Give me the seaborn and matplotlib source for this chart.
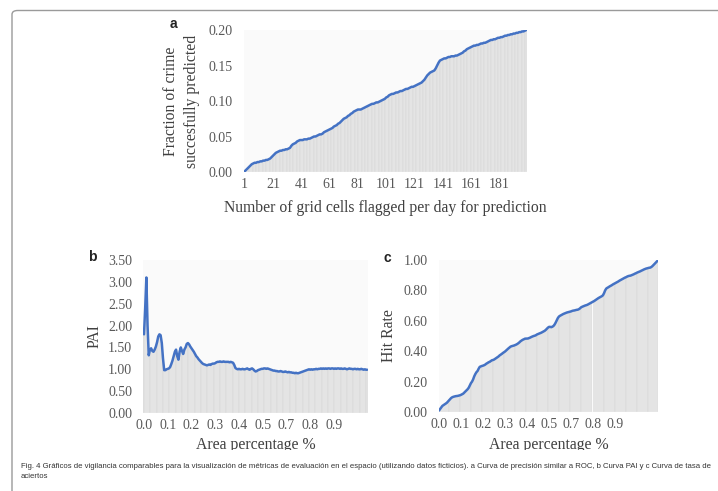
import matplotlib
matplotlib.use("Agg")
import matplotlib.pyplot as plt
import seaborn as sns
import pandas as pd
from matplotlib.patches import FancyBboxPatch, Rectangle

# panel a: fraction of crime successfully predicted vs number of cells flagged (1..200)
cells = list(range(1, 201))
frac_crime = [
    0.001, 0.003, 0.005, 0.007, 0.009, 0.011, 0.012, 0.013, 0.013, 0.014,
    0.014, 0.015, 0.015, 0.016, 0.016, 0.017, 0.017, 0.018, 0.019, 0.021,
    0.023, 0.025, 0.027, 0.028, 0.029, 0.030, 0.030, 0.031, 0.031, 0.032,
    0.032, 0.033, 0.034, 0.037, 0.039, 0.040, 0.041, 0.043, 0.044, 0.045,
    0.045, 0.045, 0.046, 0.046, 0.046, 0.047, 0.047, 0.048, 0.049, 0.050,
    0.050, 0.051, 0.052, 0.053, 0.053, 0.054, 0.056, 0.057, 0.058, 0.059,
    0.060, 0.061, 0.062, 0.064, 0.065, 0.066, 0.068, 0.069, 0.071, 0.073,
    0.075, 0.076, 0.077, 0.079, 0.080, 0.082, 0.083, 0.085, 0.086, 0.087,
    0.088, 0.088, 0.088, 0.089, 0.090, 0.091, 0.092, 0.093, 0.094, 0.095,
    0.096, 0.096, 0.097, 0.098, 0.098, 0.099, 0.100, 0.101, 0.102, 0.103,
    0.105, 0.106, 0.108, 0.109, 0.110, 0.110, 0.111, 0.112, 0.112, 0.113,
    0.114, 0.114, 0.115, 0.116, 0.117, 0.117, 0.118, 0.119, 0.120, 0.120,
    0.121, 0.122, 0.123, 0.124, 0.125, 0.126, 0.128, 0.130, 0.133, 0.136,
    0.138, 0.140, 0.141, 0.142, 0.143, 0.146, 0.150, 0.154, 0.157, 0.158,
    0.159, 0.160, 0.160, 0.161, 0.162, 0.162, 0.163, 0.163, 0.163, 0.164,
    0.164, 0.165, 0.166, 0.167, 0.168, 0.170, 0.171, 0.173, 0.174, 0.175,
    0.176, 0.177, 0.178, 0.178, 0.179, 0.179, 0.180, 0.181, 0.181, 0.182,
    0.182, 0.183, 0.184, 0.185, 0.186, 0.186, 0.187, 0.187, 0.188, 0.189,
    0.189, 0.190, 0.190, 0.191, 0.192, 0.192, 0.193, 0.193, 0.194, 0.194,
    0.195, 0.195, 0.196, 0.196, 0.197, 0.197, 0.198, 0.198, 0.199, 0.200,
]
a_tick_labels = ["1", "21", "41", "61", "81", "101", "121", "141", "161", "181"]
a_yticks = [0.00, 0.05, 0.10, 0.15, 0.20]

# panel b: PAI
pai = [
    1.80, 2.40, 3.10, 2.00, 1.32, 1.45, 1.48, 1.42, 1.40, 1.45,
    1.52, 1.62, 1.75, 1.80, 1.78, 1.60, 1.25, 0.98, 0.98, 1.00,
    1.01, 1.02, 1.05, 1.12, 1.20, 1.30, 1.40, 1.45, 1.30, 1.22,
    1.40, 1.50, 1.42, 1.35, 1.45, 1.50, 1.58, 1.60, 1.57, 1.52,
    1.48, 1.44, 1.40, 1.35, 1.30, 1.27, 1.23, 1.20, 1.17, 1.14,
    1.12, 1.11, 1.10, 1.09, 1.10, 1.11, 1.10, 1.12, 1.13, 1.13,
    1.14, 1.16, 1.17, 1.17, 1.18, 1.17, 1.17, 1.18, 1.17, 1.17,
    1.17, 1.17, 1.16, 1.17, 1.16, 1.15, 1.10, 1.03, 1.01, 1.00,
    1.01, 1.00, 1.00, 1.01, 1.00, 1.00, 1.01, 1.02, 1.00, 0.99,
    1.01, 1.02, 1.00, 0.97, 0.95, 0.96, 0.98, 0.99, 1.00, 1.01,
    1.01, 1.02, 1.02, 1.01, 1.02, 1.01, 1.00, 0.99, 0.98, 0.97,
    0.97, 0.96, 0.96, 0.95, 0.95, 0.96, 0.95, 0.94, 0.94, 0.95,
    0.94, 0.93, 0.94, 0.93, 0.93, 0.92, 0.92, 0.91, 0.92, 0.91,
    0.91, 0.92, 0.93, 0.94, 0.95, 0.96, 0.97, 0.98, 0.99, 1.00,
    0.99, 1.00, 0.99, 1.00, 1.00, 1.01, 1.00, 1.01, 1.01, 1.02,
    1.01, 1.02, 1.01, 1.02, 1.01, 1.02, 1.02, 1.01, 1.02, 1.02,
    1.01, 1.02, 1.01, 1.02, 1.02, 1.01, 1.02, 1.01, 1.01, 1.02,
    1.01, 1.00, 1.01, 1.02, 1.01, 1.01, 1.00, 1.01, 1.01, 1.00,
    1.01, 1.00, 1.00, 1.01, 1.00, 0.99, 1.00, 0.99, 0.99,
]
b_yticks = [0.0, 0.5, 1.0, 1.5, 2.0, 2.5, 3.0, 3.5]

# panel c: hit rate
hit_rate = [
    0.010, 0.020, 0.030, 0.040, 0.045, 0.050, 0.055, 0.060, 0.068, 0.075,
    0.085, 0.092, 0.097, 0.100, 0.102, 0.104, 0.105, 0.106, 0.108, 0.110,
    0.113, 0.117, 0.121, 0.128, 0.135, 0.143, 0.150, 0.160, 0.175, 0.190,
    0.200, 0.215, 0.235, 0.250, 0.262, 0.270, 0.285, 0.297, 0.300, 0.303,
    0.305, 0.308, 0.312, 0.318, 0.322, 0.327, 0.330, 0.335, 0.340, 0.342,
    0.345, 0.350, 0.355, 0.360, 0.365, 0.372, 0.377, 0.382, 0.388, 0.393,
    0.398, 0.405, 0.411, 0.418, 0.424, 0.430, 0.433, 0.435, 0.437, 0.440,
    0.443, 0.447, 0.452, 0.458, 0.465, 0.470, 0.475, 0.478, 0.482, 0.483,
    0.483, 0.484, 0.487, 0.490, 0.494, 0.497, 0.500, 0.502, 0.505, 0.510,
    0.513, 0.516, 0.519, 0.522, 0.526, 0.530, 0.534, 0.540, 0.548, 0.555,
    0.560, 0.560, 0.558, 0.561, 0.566, 0.575, 0.588, 0.603, 0.618, 0.628,
    0.633, 0.637, 0.641, 0.645, 0.648, 0.651, 0.654, 0.656, 0.658, 0.660,
    0.662, 0.665, 0.667, 0.668, 0.670, 0.672, 0.673, 0.676, 0.681, 0.688,
    0.692, 0.695, 0.698, 0.701, 0.703, 0.706, 0.710, 0.714, 0.718, 0.722,
    0.726, 0.730, 0.735, 0.740, 0.745, 0.750, 0.754, 0.758, 0.762, 0.768,
    0.782, 0.800, 0.812, 0.817, 0.821, 0.826, 0.830, 0.834, 0.839, 0.843,
    0.847, 0.851, 0.855, 0.859, 0.864, 0.868, 0.872, 0.876, 0.880, 0.884,
    0.887, 0.891, 0.894, 0.896, 0.897, 0.900, 0.903, 0.906, 0.910, 0.913,
    0.917, 0.920, 0.923, 0.926, 0.930, 0.933, 0.937, 0.940, 0.943, 0.945,
    0.947, 0.949, 0.950, 0.954, 0.960, 0.967, 0.975, 0.983, 0.990, 0.998,
]
c_yticks = [0.0, 0.2, 0.4, 0.6, 0.8, 1.0]

area_tick_labels = ["0.0", "0.1", "0.2", "0.3", "0.4", "0.5", "0.7", "0.8", "0.9"]

caption = ("Fig. 4 Gráficos de vigilancia comparables para la visualización de métricas de evaluación "
           "en el espacio (utilizando datos ficticios). a Curva de precisión similar a ROC, b Curva PAI "
           "y c Curva de tasa de\naciertos")

sns.set_theme(style="white")
plt.rcParams["font.family"] = ["Liberation Serif", "DejaVu Serif"]

BAR = "#d9d9d9"
LINE = "#4472c4"
TXT = "#595959"


def panel(ax, values, tick_labels, yticks, ylabel, xlabel, ylab_x, xlab_y):
    df = pd.DataFrame({"pos": list(range(len(values))), "val": values})
    ax.set_facecolor("#fafafa")
    sns.barplot(data=df, x="pos", y="val", color=BAR, width=1.0, native_scale=True,
                edgecolor="white", linewidth=0.15, errorbar=None, ax=ax)
    sns.lineplot(data=df, x="pos", y="val", color=LINE, linewidth=1.8, ax=ax)
    ax.set_xlim(-0.5, len(values) - 0.5)
    ax.set_ylim(yticks[0], yticks[-1])
    ax.set_xticks(list(range(0, 20 * len(tick_labels), 20)))
    ax.set_xticklabels(tick_labels)
    ax.set_yticks(yticks)
    ax.set_yticklabels([f"{v:.2f}" for v in yticks])
    ax.tick_params(axis="y", length=0, pad=8, labelsize=10, labelcolor=TXT)
    ax.tick_params(axis="x", length=0, pad=4, labelsize=10, labelcolor=TXT)
    for s in ax.spines.values():
        s.set_visible(False)
    ax.set_ylabel(ylabel, fontsize=11.3, color="#404040", linespacing=1.4)
    ax.set_xlabel(xlabel, fontsize=11.3, color="#404040")
    ax.yaxis.set_label_coords(ylab_x, 0.5)
    ax.xaxis.set_label_coords(0.5, xlab_y)


fig = plt.figure(figsize=(7.18, 4.91), dpi=100)
W, H = 718, 491


def rect(l, t, r, b):
    return [l / W, 1 - b / H, (r - l) / W, (b - t) / H]


ax_a = fig.add_axes(rect(244, 30, 527, 172))
ax_b = fig.add_axes(rect(143.4, 260, 367.8, 413))
ax_c = fig.add_axes(rect(438.5, 260, 658.5, 412))

panel(ax_a, frac_crime, a_tick_labels, a_yticks,
      "Fraction of crime\nsuccesfully predicted",
      "Number of grid cells flagged per day for prediction", -0.155, -0.195)
panel(ax_b, pai, area_tick_labels, b_yticks, "PAI", "Area percentage %", -0.18, -0.155)
panel(ax_c, hit_rate, area_tick_labels, c_yticks, "Hit Rate", "Area percentage %", -0.189, -0.162)

for letter, x, y in [("a", 173, 24), ("b", 92, 257), ("c", 387, 258)]:
    fig.text(x / W, 1 - y / H, letter, fontsize=10, fontweight="bold",
             family="Liberation Sans", ha="center", va="center", color="#222222")

# the page crops the lower axis titles just above the caption
fig.patches.append(Rectangle((100 / W, 1 - 460 / H), 600 / W, 10.5 / H,
                             transform=fig.transFigure, facecolor="white",
                             edgecolor="none", zorder=5))

fig.text(21 / W, 1 - 463 / H, caption, fontsize=5.55, family="Liberation Sans",
         color="#333333", ha="left", va="top", linespacing=1.55, zorder=6)

# page frame
frame = FancyBboxPatch((12 / W, -0.2), 1.2, 1 - 10.5 / H + 0.2,
                       boxstyle="round,pad=0,rounding_size=0.008",
                       transform=fig.transFigure, fill=False,
                       edgecolor="#9a9a9a", linewidth=1.0, clip_on=False, zorder=6)
fig.patches.append(frame)

fig.savefig("out.png", dpi=100)
